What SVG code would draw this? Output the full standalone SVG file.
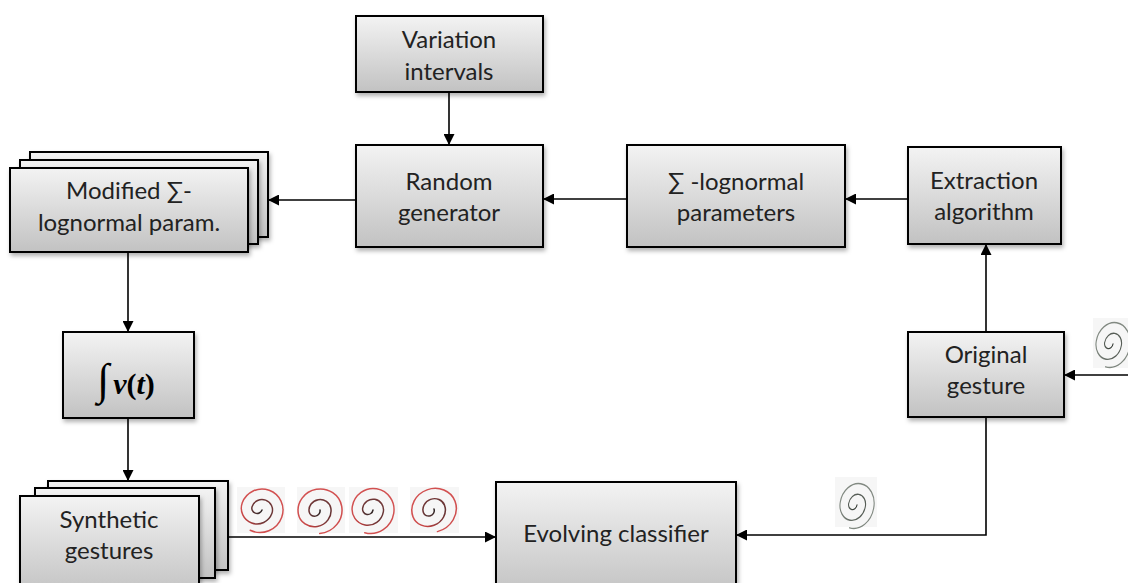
<svg xmlns="http://www.w3.org/2000/svg" width="1128" height="583" viewBox="0 0 1128 583">
  <style>
    .box { stroke: #000; stroke-width: 2; fill: url(#boxFill); filter: url(#shadow); }
    .lbl { font-family: Lato, "Open Sans", "Liberation Sans", sans-serif; font-size: 24px; fill: #222; text-anchor: middle; }
    .conn { stroke: #000; stroke-width: 1.6; fill: none; marker-end: url(#arrow); }
    .thumb { fill: #f6f6f6; }
    .redSp { fill: none; stroke: url(#redInk); stroke-width: 1.4; stroke-linecap: round; }
    .greySp { fill: none; stroke: url(#greyInk); stroke-width: 1.3; stroke-linecap: round; }
  </style>
  <defs>
    <linearGradient id="boxFill" x1="0" y1="0" x2="0" y2="1">
      <stop offset="0" stop-color="#f3f3f3"/>
      <stop offset="1" stop-color="#c2c2c2"/>
    </linearGradient>
    <radialGradient id="redInk" cx="0.5" cy="0.5" r="0.55">
      <stop offset="0" stop-color="#2e2626"/>
      <stop offset="0.4" stop-color="#5a3434"/>
      <stop offset="0.75" stop-color="#c04040"/>
      <stop offset="1" stop-color="#dc5a5a"/>
    </radialGradient>
    <radialGradient id="greyInk" cx="0.5" cy="0.5" r="0.55">
      <stop offset="0" stop-color="#2a302a"/>
      <stop offset="1" stop-color="#8a928a"/>
    </radialGradient>
    <filter id="shadow" x="-10%" y="-10%" width="125%" height="130%">
      <feDropShadow dx="1.5" dy="3" stdDeviation="2" flood-color="#000" flood-opacity="0.3"/>
    </filter>
    <marker id="arrow" viewBox="0 0 10 10" refX="10" refY="5" markerWidth="11" markerHeight="11" orient="auto" markerUnits="userSpaceOnUse">
      <path d="M0,0 L10,5 L0,10 z" fill="#000"/>
    </marker>
    <!-- hand-drawn style spiral, centred near the origin -->
    <path id="spiral" d="M0,0 A5,5 0 0 1 10,0 A10,10 0 0 1 -10,0 A15,15 0 0 1 20,0 A20,20 0 0 1 -20,0 A22,22 0 0 1 4,-22"/>
  </defs>

  <!-- connectors -->
  <g id="connectors">
    <line class="conn" x1="449" y1="92" x2="449" y2="145"/>
    <line class="conn" x1="627" y1="199" x2="543" y2="199"/>
    <line class="conn" x1="908" y1="199" x2="845" y2="199"/>
    <line class="conn" x1="986" y1="332" x2="986" y2="244"/>
    <line class="conn" x1="1128" y1="375" x2="1064" y2="375"/>
    <line class="conn" x1="356" y1="200" x2="268" y2="200"/>
    <line class="conn" x1="128" y1="252" x2="128" y2="332"/>
    <line class="conn" x1="128" y1="418" x2="128" y2="481"/>
    <line class="conn" x1="228" y1="537" x2="496" y2="537"/>
    <polyline class="conn" points="986,417 986,535 736,535"/>
  </g>

  <g id="variation-intervals">
    <rect class="box" x="356" y="16" width="187" height="76"/>
    <text class="lbl" x="449" y="48">Variation</text>
    <text class="lbl" x="449" y="80">intervals</text>
  </g>

  <g id="random-generator">
    <rect class="box" x="356" y="145" width="187" height="102"/>
    <text class="lbl" x="449" y="190">Random</text>
    <text class="lbl" x="449" y="221">generator</text>
  </g>

  <g id="lognormal-parameters">
    <rect class="box" x="627" y="145" width="218" height="102"/>
    <text class="lbl" x="736" y="190">∑ -lognormal</text>
    <text class="lbl" x="736" y="221">parameters</text>
  </g>

  <g id="extraction-algorithm">
    <rect class="box" x="908" y="147" width="153" height="97"/>
    <text class="lbl" x="984" y="189">Extraction</text>
    <text class="lbl" x="984" y="220">algorithm</text>
  </g>

  <g id="modified-parameters">
    <rect class="box" x="30" y="152" width="238" height="85"/>
    <rect class="box" x="20" y="160" width="238" height="84"/>
    <rect class="box" x="10" y="168" width="238" height="84"/>
    <text class="lbl" x="129" y="199">Modified ∑-</text>
    <text class="lbl" x="129" y="231">lognormal param.</text>
  </g>

  <g id="integrator">
    <rect class="box" x="63" y="332" width="131" height="86"/>
    <text x="126" y="394" text-anchor="middle" font-family="'Liberation Serif', serif" fill="#000"><tspan font-size="44">∫</tspan><tspan font-size="30" font-weight="bold" font-style="italic" dx="4">v</tspan><tspan font-size="30" font-weight="bold">(</tspan><tspan font-size="30" font-weight="bold" font-style="italic">t</tspan><tspan font-size="30" font-weight="bold">)</tspan></text>
  </g>

  <g id="synthetic-gestures">
    <rect class="box" x="48" y="481" width="180" height="89"/>
    <rect class="box" x="35" y="488" width="180" height="90"/>
    <rect class="box" x="20" y="496" width="179" height="100"/>
    <text class="lbl" x="109" y="528">Synthetic</text>
    <text class="lbl" x="109" y="559">gestures</text>
  </g>

  <g id="evolving-classifier">
    <rect class="box" x="496" y="482" width="240" height="115"/>
    <text class="lbl" x="616" y="542">Evolving classifier</text>
  </g>

  <g id="original-gesture">
    <rect class="box" x="908" y="332" width="156" height="85"/>
    <text class="lbl" x="986" y="363">Original</text>
    <text class="lbl" x="986" y="394">gesture</text>
  </g>

  <!-- gesture samples -->
  <g id="synthetic-samples">
    <rect class="thumb" x="237" y="487" width="48" height="46"/>
    <rect class="thumb" x="297" y="487" width="48" height="46"/>
    <rect class="thumb" x="349" y="487" width="49" height="46"/>
    <rect class="thumb" x="410" y="487" width="49" height="46"/>
    <use href="#spiral" class="redSp" transform="translate(262,510) rotate(200) scale(1.05,1.05)"/>
    <use href="#spiral" class="redSp" transform="translate(320,510) rotate(170) scale(1.1,1.05)"/>
    <use href="#spiral" class="redSp" transform="translate(373,510) rotate(190) scale(1.05,1.08)"/>
    <use href="#spiral" class="redSp" transform="translate(434,509) rotate(160) scale(1.12,1.02)"/>
  </g>
  <g id="real-sample-bottom">
    <rect class="thumb" x="835" y="477" width="42" height="50"/>
    <use href="#spiral" class="greySp" transform="translate(857,505) rotate(190) scale(0.85,1.08)"/>
  </g>
  <g id="real-sample-input">
    <rect class="thumb" x="1093" y="318" width="35" height="50"/>
    <use href="#spiral" class="greySp" transform="translate(1113,344) rotate(190) scale(0.85,1.08)"/>
  </g>
</svg>
